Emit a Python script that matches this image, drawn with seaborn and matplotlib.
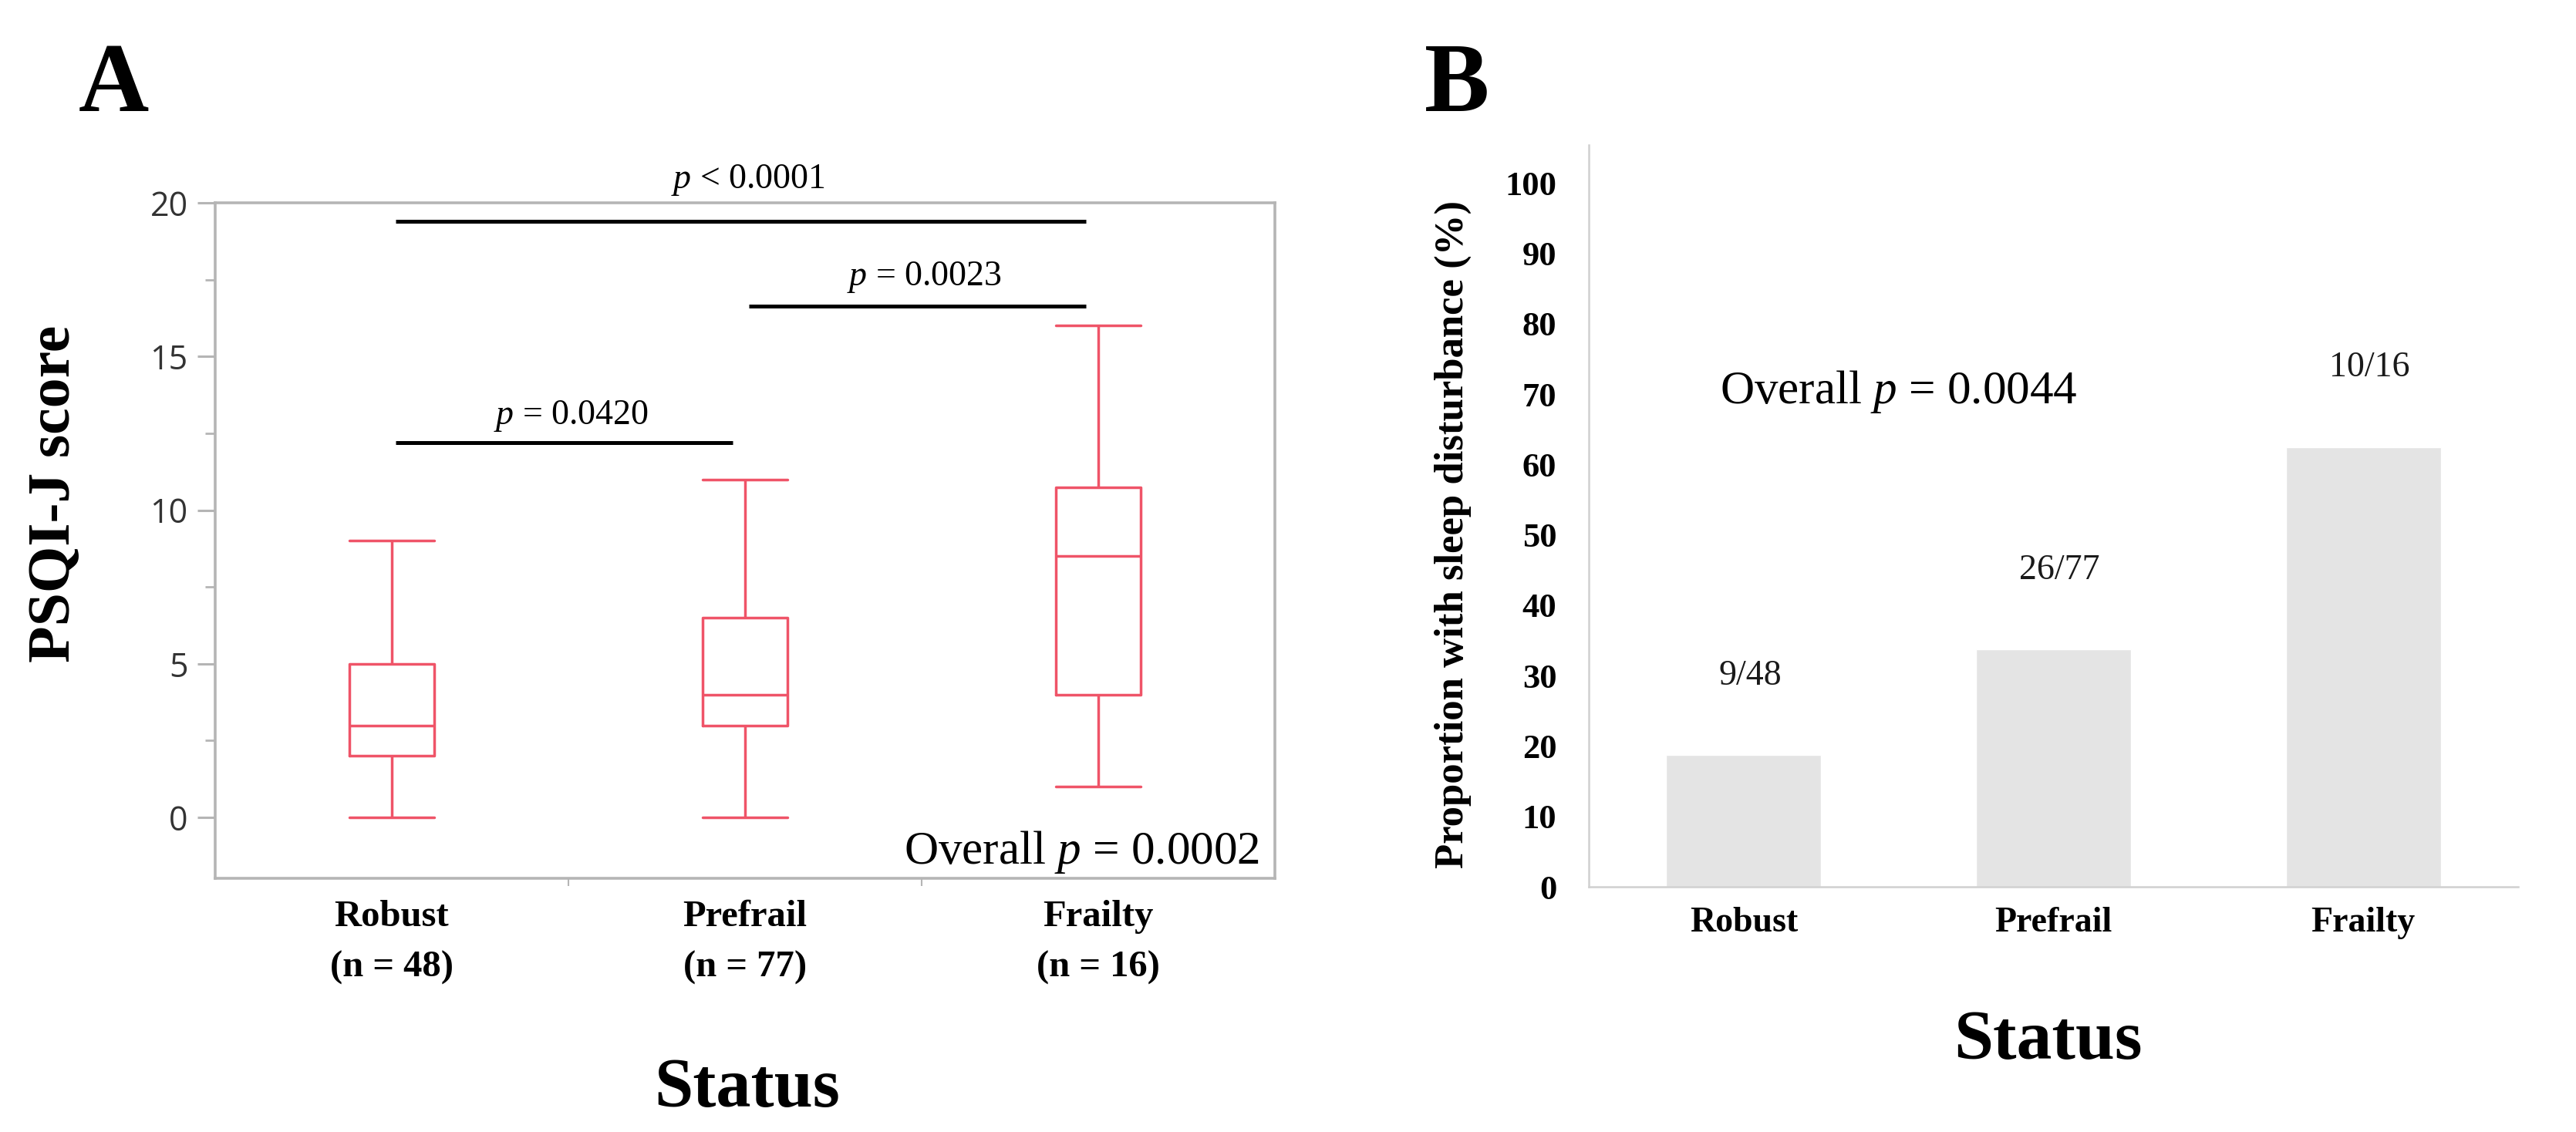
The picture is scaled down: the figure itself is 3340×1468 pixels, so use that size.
import numpy as np
import pandas as pd
import matplotlib
matplotlib.use("Agg")
import matplotlib.pyplot as plt
import seaborn as sns
from matplotlib.ticker import MultipleLocator, FixedLocator

# ---------------- data ----------------
categories = ["Robust", "Prefrail", "Frailty"]
group_n = [48, 77, 16]

# Panel A: five-number summaries of PSQI-J score
psqi_min = [0, 0, 1]
psqi_q1 = [2, 3, 4]
psqi_median = [3, 4, 8.5]
psqi_q3 = [5, 6.5, 10.75]
psqi_max = [9, 11, 16]

pair_groups = [(0, 2), (1, 2), (0, 1)]
pair_labels = ["$p$ < 0.0001", "$p$ = 0.0023", "$p$ = 0.0420"]
overall_p_A = "Overall $p$ = 0.0002"
yticks_A = [0, 5, 10, 15, 20]

# Panel B: number with sleep disturbance / group size
disturbed = [9, 26, 10]
overall_p_B = "Overall $p$ = 0.0044"
yticks_B = [0, 10, 20, 30, 40, 50, 60, 70, 80, 90, 100]

# ---------------- style ----------------
sns.set_theme(style="white")
plt.rcParams["font.family"] = ["Liberation Serif", "DejaVu Serif"]
plt.rcParams["text.color"] = "black"
plt.rcParams["axes.labelcolor"] = "black"
plt.rcParams["mathtext.fontset"] = "custom"
plt.rcParams["mathtext.rm"] = "Liberation Serif"
plt.rcParams["mathtext.it"] = "Liberation Serif:italic"
plt.rcParams["mathtext.bf"] = "Liberation Serif:bold"

BOX_COLOR = "#EF5468"
FRAME_GREY = "#b5b5b5"
BAR_COLOR = "#e4e4e4"
AXIS_B_GREY = "#d0d0d0"

W, H = 3340, 1468
fig = plt.figure(figsize=(W / 100, H / 100), dpi=100)

def fx(px):
    return px / W

def fy(py):
    return 1 - py / H

# ---------------- Panel A ----------------
axA = fig.add_axes([fx(279), fy(1139), fx(1653) - fx(279), fy(263) - fy(1139)])

rows = []
for cat, a, b, c, d, e in zip(categories, psqi_min, psqi_q1, psqi_median, psqi_q3, psqi_max):
    for v in (a, b, c, d, e):
        rows.append({"Status": cat, "PSQI-J score": v})
dfA = pd.DataFrame(rows)

sns.boxplot(data=dfA, x="Status", y="PSQI-J score", order=categories, ax=axA,
            fill=False, color=BOX_COLOR, linewidth=2.5, width=0.242,
            whis=(0, 100), showfliers=False, capwidths=0.242)

axA.set_xlim(-0.5, 2.5)
axA.set_ylim(-1.98, 20)
axA.set_xlabel("")
axA.set_ylabel("")
for s in axA.spines.values():
    s.set_visible(True)
    s.set_color(FRAME_GREY)
    s.set_linewidth(2.6)

axA.set_yticks(yticks_A)
axA.yaxis.set_minor_locator(MultipleLocator(2.5))
axA.tick_params(axis="y", which="major", left=True, length=16.5, width=2.2,
                color=FRAME_GREY, pad=9, labelsize=31, labelcolor="#333333")
axA.tick_params(axis="y", which="minor", left=True, length=9.5, width=2.0,
                color=FRAME_GREY)
for lbl in axA.get_yticklabels():
    lbl.set_fontfamily(["Open Sans", "DejaVu Sans"])

axA.set_xticks([0, 1, 2])
axA.set_xticklabels([f"{c}\n(n = {n})" for c, n in zip(categories, group_n)])
axA.xaxis.set_minor_locator(FixedLocator([0.5, 1.5]))
axA.tick_params(axis="x", which="major", bottom=False, length=0, pad=20,
                labelsize=35, labelcolor="black")
axA.tick_params(axis="x", which="minor", bottom=True, length=7, width=1.5,
                color=FRAME_GREY)
for lbl in axA.get_xticklabels():
    lbl.set_fontweight("bold")
    lbl.set_linespacing(1.65)

bar_levels = [19.4, 16.65, 12.2]
label_gaps = [1.08, 0.66, 0.6]
for (i, j), lab, lev, gap in zip(pair_groups, pair_labels, bar_levels, label_gaps):
    x0, x1 = i + 0.01, j - 0.035
    axA.plot([x0, x1], [lev, lev], color="black", lw=3.6, clip_on=False,
             solid_capstyle="butt")
    axA.text((x0 + x1) / 2 + 0.02, lev + gap, lab, ha="center", va="baseline",
             fontsize=33, color="black", clip_on=False)

axA.text(0.9855, 0.022, overall_p_A, transform=axA.transAxes, ha="right",
         va="baseline", fontsize=44, color="black")

fig.text(fx(102), fy(144), "A", ha="left", va="baseline", fontsize=91,
         fontweight="bold", color="black")
fig.text(fx(72), fy(640), "PSQI-J score", rotation=90, ha="center",
         va="center", fontsize=56, fontweight="bold", color="black")
fig.text(fx(969), fy(1435), "Status", ha="center", va="baseline",
         fontsize=65, fontweight="bold", color="black")

# ---------------- Panel B ----------------
axB = fig.add_axes([fx(2060), fy(1150), fx(3265) - fx(2060), fy(188) - fy(1150)])

pct = [100 * d / n for d, n in zip(disturbed, group_n)]
dfB = pd.DataFrame({"Status": categories, "Percent": pct})
sns.barplot(data=dfB, x="Status", y="Percent", order=categories, ax=axB,
            color=BAR_COLOR, saturation=1, width=0.5)

axB.set_xlim(-0.5, 2.5)
axB.set_ylim(0, 105.4)
axB.set_xlabel("")
axB.set_ylabel("")
axB.spines["top"].set_visible(False)
axB.spines["right"].set_visible(False)
for side in ("left", "bottom"):
    axB.spines[side].set_visible(True)
    axB.spines[side].set_color(AXIS_B_GREY)
    axB.spines[side].set_linewidth(1.8)

axB.set_yticks(yticks_B)
axB.tick_params(axis="y", left=False, length=0, pad=30, labelsize=32,
                labelcolor="black")
axB.tick_params(axis="x", bottom=False, length=0, pad=19, labelsize=33,
                labelcolor="black")
for lbl in axB.get_yticklabels() + axB.get_xticklabels():
    lbl.set_fontweight("bold")

for i, (d, n, p) in enumerate(zip(disturbed, group_n, pct)):
    axB.text(i + 0.02, p + 10, f"{d}/{n}", ha="center", va="baseline",
             fontsize=33, color="#1a1a1a")

axB.text(0.5, 68.7, overall_p_B, ha="center", va="baseline", fontsize=44,
         color="black")

fig.text(fx(1847), fy(144), "B", ha="left", va="baseline", fontsize=91,
         fontweight="bold", color="black")
fig.text(fx(1884), fy(693), "Proportion with sleep disturbance (%)",
         rotation=90, ha="center", va="center", fontsize=38, fontweight="bold",
         color="black")
fig.text(fx(2655), fy(1373), "Status", ha="center", va="baseline",
         fontsize=66, fontweight="bold", color="black")

fig.savefig("out.png", dpi=100, facecolor="white")
